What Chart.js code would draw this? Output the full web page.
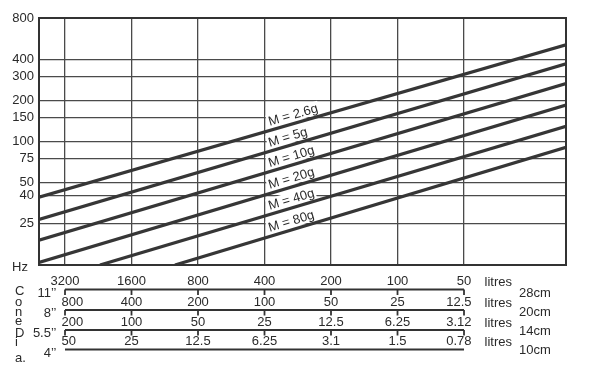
<!DOCTYPE html>
<html>
<head>
<meta charset="utf-8">
<script src="https://cdn.jsdelivr.net/npm/chart.js@4/dist/chart.umd.min.js"></script>
<style>
  html, body { margin: 0; padding: 0; background: #ffffff; }
  canvas { display: block; }
</style>
</head>
<body>
<canvas id="c" width="592" height="380"></canvas>
<script>
// ---- data ----
const yTicks = [25, 40, 50, 75, 100, 150, 200, 300, 400, 800];      // Hz
const litres = [3200, 1600, 800, 400, 200, 100, 50];               // 11" cone row (x axis)
const row8  = ['800', '400', '200', '100', '50', '25', '12.5'];    // 8" cone
const row55 = ['200', '100', '50', '25', '12.5', '6.25', '3.12'];  // 5.5" cone
const row4  = ['50', '25', '12.5', '6.25', '3.1', '1.5', '0.78'];  // 4" cone
const coneInches = ['11\u2019\u2019', '8\u2019\u2019', '5.5\u2019\u2019', '4\u2019\u2019'];
const coneCm = ['28cm', '20cm', '14cm', '10cm'];
const coneWord = ['C', 'o', 'n', 'e', 'D', 'i', 'a.'];

const massLabels  = ['M = 2.6g', 'M = 5g', 'M = 10g', 'M = 20g', 'M = 40g', 'M = 80g'];
const startLitres = [4196, 4196, 4196, 4196, 2222, 1017];
const startHz     = [39.1, 26.9, 18.95, 13.05, 12.5, 12.5];
const endLitres   = [17.27, 17.27, 17.27, 17.27, 17.27, 17.27];
const endHz       = [510, 370, 265, 185, 129, 90.7];

// ---- styling ----
const FONT = '13px "Liberation Sans", Arial, sans-serif';
const INK = '#2a2a2a';
const GRID = '#4a4a4a';

const datasets = massLabels.map((lab, i) => ({
  label: lab,
  data: [{x: startLitres[i], y: startHz[i]}, {x: endLitres[i], y: endHz[i]}],
  borderColor: '#363636',
  borderWidth: 3.2,
  pointRadius: 0,
  fill: false,
  tension: 0
}));

const decor = {
  id: 'decor',
  beforeDatasetsDraw(chart) {
    const {ctx, scales: {x, y}} = chart;
    ctx.save();
    ctx.font = FONT;
    ctx.textBaseline = 'alphabetic';
    ctx.textAlign = 'left';
    chart.data.datasets.forEach((ds, i) => {
      const x0 = x.getPixelForValue(ds.data[0].x), y0 = y.getPixelForValue(ds.data[0].y);
      const x1 = x.getPixelForValue(ds.data[1].x), y1 = y.getPixelForValue(ds.data[1].y);
      const ang = Math.atan2(y1 - y0, x1 - x0);
      const lx = 271;
      const ly = y0 + (lx - x0) * (y1 - y0) / (x1 - x0);
      const off = 4.5;
      const ax = lx + off * Math.sin(ang);
      const ay = ly - off * Math.cos(ang);
      const w = ctx.measureText(ds.label).width;
      ctx.save();
      ctx.translate(ax, ay);
      ctx.rotate(ang);
      ctx.fillStyle = '#ffffff';
      ctx.fillRect(-1.5, -11, w + 3, 13.5);
      ctx.fillStyle = INK;
      ctx.fillText(ds.label, 0, 0);
      ctx.restore();
    });
    ctx.restore();
  },
  afterDraw(chart) {
    const {ctx, chartArea: a, scales: {x}} = chart;
    ctx.save();
    // plot frame
    ctx.strokeStyle = '#333';
    ctx.lineWidth = 2;
    ctx.strokeRect(a.left, a.top, a.right - a.left, a.bottom - a.top);

    ctx.font = FONT;
    ctx.fillStyle = INK;
    ctx.textBaseline = 'middle';
    // Hz
    ctx.textAlign = 'left';
    ctx.fillText('Hz', 12, 267);

    const xs = litres.map(v => x.getPixelForValue(v));
    // bracket lines
    const lineY = [289.5, 310, 330, 349.5];
    ctx.strokeStyle = '#333';
    ctx.lineWidth = 1.8;
    lineY.forEach((ly, k) => {
      ctx.beginPath();
      ctx.moveTo(xs[0], ly);
      ctx.lineTo(xs[xs.length - 1], ly);
      ctx.stroke();
      if (k < 3) {
        xs.forEach(px => {
          ctx.beginPath();
          ctx.moveTo(px, ly);
          ctx.lineTo(px, ly + 5.5);
          ctx.stroke();
        });
      }
    });
    // value rows
    const rows = [row8, row55, row4];
    const rowY = [302, 322, 341];
    rows.forEach((r, k) => {
      r.forEach((t, i) => {
        let px = xs[i];
        if (i === 0) { ctx.textAlign = 'left'; px -= 3.5; }
        else if (i === r.length - 1) { ctx.textAlign = 'right'; px += 7.5; }
        else ctx.textAlign = 'center';
        ctx.fillText(t, px, rowY[k]);
      });
    });
    // litres labels
    ctx.textAlign = 'left';
    [282.5, 303, 323, 342.5].forEach(yy => ctx.fillText('litres', 484.5, yy));
    // cm labels
    const cmY = [293.3, 312.3, 331, 350];
    coneCm.forEach((t, k) => ctx.fillText(t, 519, cmY[k]));
    // inch labels
    ctx.textAlign = 'right';
    const inY = [293.3, 313.3, 333.3, 353.3];
    coneInches.forEach((t, k) => ctx.fillText(t, 56.5, inY[k]));
    // Cone Dia.
    ctx.textAlign = 'left';
    const cY = [291, 302, 312.5, 321, 333, 342.5, 358.5];
    coneWord.forEach((t, k) => ctx.fillText(t, 15, cY[k]));
    ctx.restore();
  }
};

new Chart(document.getElementById('c'), {
  type: 'line',
  data: { datasets },
  plugins: [decor],
  options: {
    responsive: false,
    animation: false,
    devicePixelRatio: 1,
    layout: { padding: { top: 18, right: 26, left: 0, bottom: 0 } },
    plugins: { legend: { display: false }, tooltip: { enabled: false } },
    scales: {
      x: {
        type: 'logarithmic',
        reverse: true,
        min: 17.27,
        max: 4196,
        bounds: 'data',
        afterBuildTicks: s => { s.ticks = litres.map(v => ({value: v})); },
        afterFit: s => { s.height = 115; },
        grid: { color: GRID, lineWidth: 1.3, drawTicks: false },
        border: { display: true, color: '#333', width: 2 },
        ticks: {
          callback: v => String(v),
          autoSkip: false, maxRotation: 0, padding: 9,
          color: INK, font: { family: '"Liberation Sans", Arial, sans-serif', size: 13 }
        }
      },
      y: {
        type: 'logarithmic',
        min: 12.5,
        max: 800,
        bounds: 'data',
        afterBuildTicks: s => { s.ticks = yTicks.map(v => ({value: v})); },
        afterFit: s => { s.width = 39; },
        grid: { color: GRID, lineWidth: 1.3, drawTicks: false },
        border: { display: true, color: '#333', width: 2 },
        ticks: {
          callback: v => String(v),
          autoSkip: false, padding: 5,
          color: INK, font: { family: '"Liberation Sans", Arial, sans-serif', size: 13 }
        }
      }
    }
  }
});
</script>
</body>
</html>
